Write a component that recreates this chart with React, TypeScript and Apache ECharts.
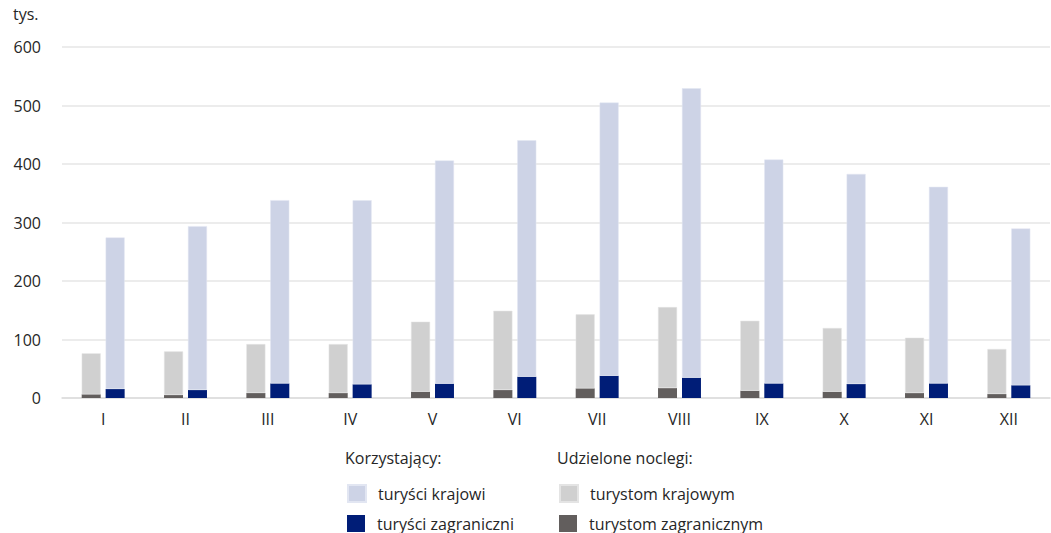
import React, { useEffect, useRef } from "react";
import * as echarts from "echarts";

const months = ["I", "II", "III", "IV", "V", "VI", "VII", "VIII", "IX", "X", "XI", "XII"];
const yTicks = [0, 100, 200, 300, 400, 500, 600];
// Udzielone noclegi (tys.)
const noclegiZagraniczni = [6.3, 5.1, 8.5, 8.5, 10.8, 13.7, 16.5, 17.0, 12.5, 10.8, 8.5, 6.8];
const noclegiKrajowi = [70.0, 74.6, 83.7, 83.7, 119.6, 135.4, 126.5, 138.4, 119.5, 108.8, 94.5, 76.9];
// Korzystający (tys.)
const korzystajacyZagraniczni = [15.4, 13.7, 25.0, 23.4, 24.5, 36.4, 38.0, 34.7, 25.0, 23.9, 25.0, 21.7];
const korzystajacyKrajowi = [259.0, 280.1, 313.2, 314.6, 381.5, 404.2, 467.0, 494.8, 382.6, 359.1, 336.0, 268.1];

const FONT = "'Open Sans', sans-serif";
const TXT = "#262626";
const C_LAV = "#cdd3e6";
const C_NAVY = "#001d77";
const C_LGRAY = "#d0d0d0";
const C_DGRAY = "#625e5d";

export default function App() {
  const ref = useRef<HTMLDivElement>(null);
  useEffect(() => {
    if (!ref.current) return;
    const chart = echarts.init(ref.current, undefined, { renderer: "svg" });
    const legendText = { fontFamily: FONT, fontSize: 16, color: TXT, padding: [0, 0, 0, 7] };
    const mkLegend = (name: string, left: number, top: number) => ({
      data: [name],
      left,
      top,
      icon: "rect",
      itemWidth: 18,
      itemHeight: 17,
      padding: 0,
      textStyle: legendText,
      selectedMode: false,
    });
    chart.setOption({
      animation: false,
      textStyle: { fontFamily: FONT },
      grid: { left: 62, right: 1, top: 47, bottom: 135, containLabel: false },
      graphic: [
        { type: "text", left: 13, top: 6, style: { text: "tys.", fontFamily: FONT, fontSize: 16, fill: TXT } },
        { type: "text", left: 345, top: 450, style: { text: "Korzystający:", fontFamily: FONT, fontSize: 16, fill: TXT } },
        { type: "text", left: 557, top: 450, style: { text: "Udzielone noclegi:", fontFamily: FONT, fontSize: 16, fill: TXT } },
      ],
      legend: [
        mkLegend("turyści krajowi", 347, 484),
        mkLegend("turyści zagraniczni", 347, 515),
        mkLegend("turystom krajowym", 559, 484),
        mkLegend("turystom zagranicznym", 559, 515),
      ],
      xAxis: {
        type: "category",
        data: months,
        axisTick: { show: false },
        axisLine: { lineStyle: { color: "#dcdcdc", width: 1.5 } },
        axisLabel: { fontFamily: FONT, fontSize: 16, color: TXT, margin: 13 },
      },
      yAxis: {
        type: "value",
        min: yTicks[0],
        max: yTicks[yTicks.length - 1],
        interval: 100,
        axisLine: { show: false },
        axisTick: { show: false },
        splitLine: { lineStyle: { color: "#e6e6e6", width: 1.5 } },
        axisLabel: { fontFamily: FONT, fontSize: 16, color: TXT, margin: 21 },
      },
      series: [
        {
          name: "turystom zagranicznym",
          type: "bar",
          stack: "noclegi",
          data: noclegiZagraniczni,
          barWidth: 19,
          barGap: "26%",
          itemStyle: { color: C_DGRAY },
        },
        {
          name: "turystom krajowym",
          type: "bar",
          stack: "noclegi",
          data: noclegiKrajowi,
          barWidth: 19,
          barGap: "26%",
          itemStyle: { color: C_LGRAY, borderColor: "#e4e4e4", borderWidth: 0.5 },
        },
        {
          name: "turyści zagraniczni",
          type: "bar",
          stack: "korzystajacy",
          data: korzystajacyZagraniczni,
          barWidth: 19,
          barGap: "26%",
          itemStyle: { color: C_NAVY },
        },
        {
          name: "turyści krajowi",
          type: "bar",
          stack: "korzystajacy",
          data: korzystajacyKrajowi,
          barWidth: 19,
          barGap: "26%",
          itemStyle: { color: C_LAV, borderColor: "#e2e6f2", borderWidth: 0.5 },
        },
      ],
    });
    return () => chart.dispose();
  }, []);
  return <div ref={ref} style={{ width: 1051, height: 533, position: "absolute", left: 0, top: 0 }} />;
}
